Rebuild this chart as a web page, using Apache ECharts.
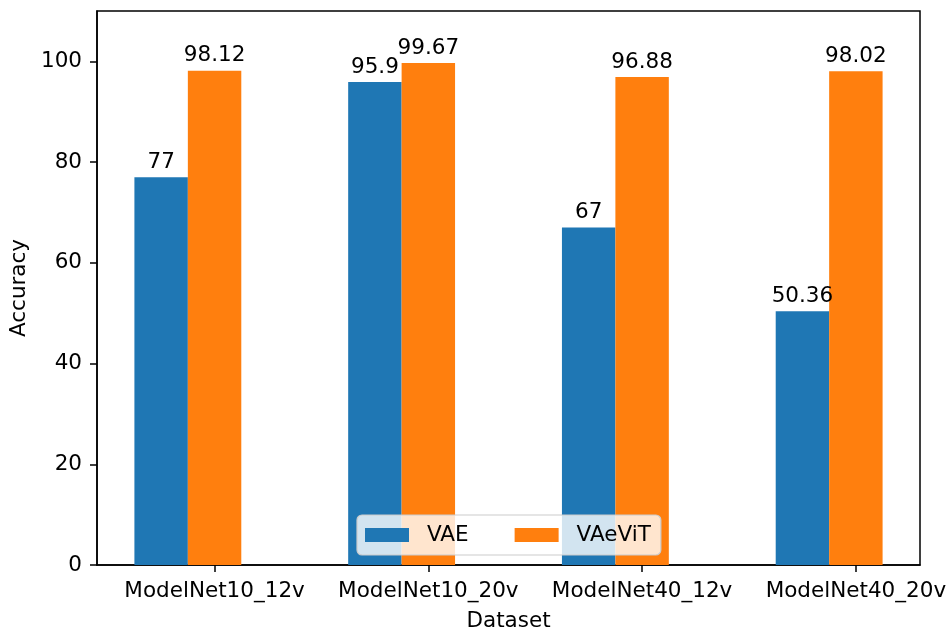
<!DOCTYPE html>
<html>
<head>
<meta charset="utf-8">
<script src="https://cdn.jsdelivr.net/npm/echarts@6/dist/echarts.min.js"></script>
<style>
  html, body { margin: 0; padding: 0; background: #fff; }
  #chart { width: 951px; height: 635px; }
</style>
</head>
<body>
<div id="chart"></div>
<script>
// Dataset names along the x axis
const categories = ['ModelNet10_12v', 'ModelNet10_20v', 'ModelNet40_12v', 'ModelNet40_20v'];
// Classification accuracy per model
const vaeValues = [77, 95.9, 67, 50.36];
const vaevitValues = [98.12, 99.67, 96.88, 98.02];
// Y tick labels
const yTicks = [0, 20, 40, 60, 80, 100];

const FONT = 'DejaVu Sans';
const FS = 21.5;
const BAR_W = 0.25;            // bar width in axis units

const toPoints = vals => vals.map((v, i) => [i, v]);
// category ticks sit under the second bar of each group
const catTicks = categories.map((_, i) => i + BAR_W / 2);

const chart = echarts.init(document.getElementById('chart'), null, { renderer: 'canvas' });

const labelStyle = {
  show: true,
  position: 'top',
  distance: 4,
  color: '#000',
  fontFamily: FONT,
  fontSize: FS
};

const axisLineStyle = { color: '#000', width: 1.5 };

chart.setOption({
  animation: false,
  backgroundColor: '#fff',
  textStyle: { fontFamily: FONT },
  grid: {
    left: 97, top: 11, right: 31, bottom: 70,
    outerBoundsMode: 'none',
    containLabel: false,
    show: true, borderColor: '#000', borderWidth: 1.5, backgroundColor: 'transparent'
  },
  legend: {
    left: 357, top: 515,
    orient: 'horizontal',
    data: ['VAE', 'VAeViT'],
    icon: 'rect',
    itemWidth: 44, itemHeight: 14,
    itemGap: 46,
    padding: [9, 10, 9, 8],
    backgroundColor: 'rgba(255,255,255,0.8)',
    borderColor: '#cccccc', borderWidth: 1.2, borderRadius: 5,
    textStyle: { fontFamily: FONT, fontSize: FS, color: '#000', padding: [0, 0, 0, 13], lineHeight: 21 }
  },
  xAxis: {
    type: 'value',
    min: -0.425, max: 3.425,
    name: 'Dataset',
    nameLocation: 'middle',
    nameGap: 45,
    nameTextStyle: { fontFamily: FONT, fontSize: FS, color: '#000' },
    splitLine: { show: false },
    axisLine: { show: true, onZero: false, lineStyle: axisLineStyle },
    axisTick: { show: true, length: 7, lineStyle: axisLineStyle, customValues: catTicks },
    axisLabel: {
      customValues: catTicks,
      margin: 15,
      fontFamily: FONT, fontSize: FS, color: '#000',
      formatter: v => categories[Math.floor(v)] || ''
    }
  },
  yAxis: {
    type: 'value',
    min: 0, max: 110,
    name: 'Accuracy',
    nameLocation: 'middle',
    nameGap: 55,
    nameTextStyle: { fontFamily: FONT, fontSize: FS, color: '#000' },
    splitLine: { show: false },
    axisLine: { show: true, onZero: false, lineStyle: axisLineStyle },
    axisTick: { show: true, length: 7, lineStyle: axisLineStyle, customValues: yTicks },
    axisLabel: {
      customValues: yTicks,
      margin: 15,
      fontFamily: FONT, fontSize: FS, color: '#000'
    }
  },
  series: [
    {
      name: 'VAE',
      type: 'bar',
      data: toPoints(vaeValues),
      barWidth: (BAR_W * 100) + '%',
      barGap: '0%',
      itemStyle: { color: '#1f77b4' },
      label: labelStyle
    },
    {
      name: 'VAeViT',
      type: 'bar',
      data: toPoints(vaevitValues),
      barWidth: (BAR_W * 100) + '%',
      barGap: '0%',
      itemStyle: { color: '#ff7f0e' },
      label: labelStyle
    }
  ]
});
</script>
</body>
</html>
